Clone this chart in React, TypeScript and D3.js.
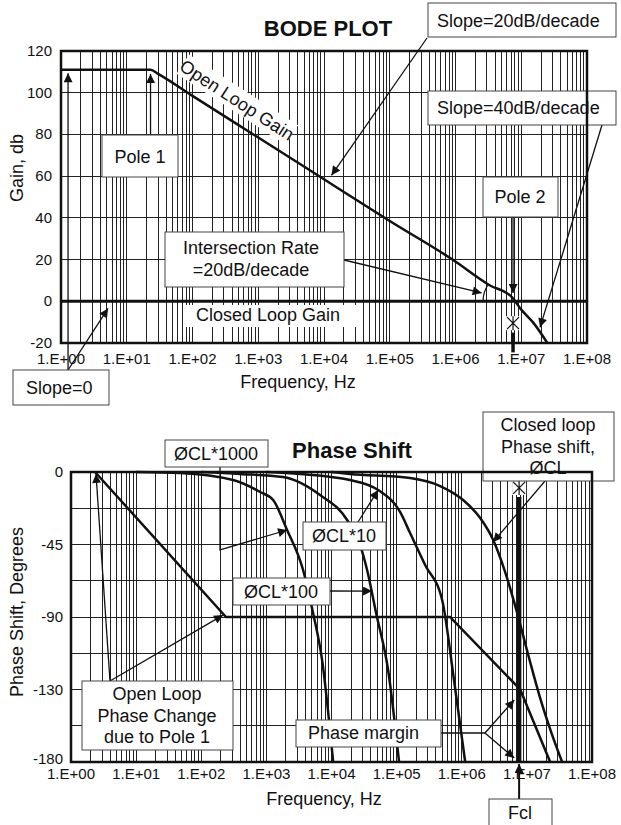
import React, { useEffect, useRef } from 'react';
import * as d3 from 'd3';

const W = 621;
const H = 825;
const FONT = '"Liberation Sans", Arial, Helvetica, sans-serif';

// ---- shared frequency axis ----
const freqTicks = [1, 1e1, 1e2, 1e3, 1e4, 1e5, 1e6, 1e7, 1e8];
const freqLabels = ['1.E+00', '1.E+01', '1.E+02', '1.E+03', '1.E+04', '1.E+05', '1.E+06', '1.E+07', '1.E+08'];

// ---- gain plot (Hz, dB) ----
const gainTicks = [-20, 0, 20, 40, 60, 80, 100, 120];
const openLoopGain: [number, number][] = [
  [1, 111], [23, 111], [30, 109], [100, 98.5], [1e3, 78.5], [1e4, 58.5], [1e5, 38.5],
  [9e5, 20], [3.3e6, 7.7], [7.2e6, 2], [1e7, -4], [1.5e7, -10], [2.5e7, -20],
];
const closedLoopGain: [number, number][] = [[1, 0], [1e8, 0]];
const pole1 = 23;
const pole2 = 7.5e6;

// ---- phase plot (Hz, degrees) ----
const phaseTicks = [0, -45, -90, -135, -180];
const phaseLabels = ['0', '-45', '-90', '-130', '-180'];
const phaseGrid = [0, -22.5, -45, -67.5, -90, -112.5, -135, -157.5, -180];
const openLoopPhase: [number, number][] = [[2.34, 0], [240, -90], [6.6e5, -90], [7.9e6, -135], [2.28e7, -180]];
const phaseCL1000: [number, number][] = [
  [10, 0], [47, -0.6], [308, -5], [800, -12.4], [1270, -17.4], [2080, -36], [3660, -60.8],
  [5210, -87.5], [7170, -116.7], [10600, -180],
];
const phaseCL100: [number, number][] = [
  [100, 0], [394, -1.2], [1806, -3.1], [6680, -14.3], [17370, -29.8], [27500, -45.4],
  [35200, -60.8], [48400, -87.5], [74000, -122.9], [109000, -180],
];
const phaseCL10: [number, number][] = [
  [1000, 0], [3300, -1.2], [19300, -5], [52000, -11.2], [113000, -24.8], [161000, -37.9],
  [274000, -57.7], [500000, -79.4], [764000, -129.7], [1130000, -180],
];
const phaseCL: [number, number][] = [
  [1e4, 0], [19300, -1.2], [161000, -3.7], [466000, -8.7], [1.05e6, -17.4], [1.92e6, -28.6],
  [3.04e6, -42.2], [4.64e6, -62.1], [7.1e6, -87.5], [1.05e7, -113.6], [1.6e7, -140.3],
  [2.36e7, -161.4], [3.48e7, -180],
];
const fcl = 7.6e6;

const gridFreqs: number[] = [];
for (let e = 0; e < 8; e++) for (let k = 1; k <= 9; k++) gridFreqs.push(k * Math.pow(10, e));
gridFreqs.push(1e8);

const App = () => {
  const svgRef = useRef<SVGSVGElement>(null);

  useEffect(() => {
    const svg = d3.select(svgRef.current);
    svg.selectAll('*').remove();
    svg.style('font-family', FONT);

    const defs = svg.append('defs');
    defs.append('marker')
      .attr('id', 'ah')
      .attr('viewBox', '0 0 10 10')
      .attr('refX', 10).attr('refY', 5)
      .attr('markerWidth', 13).attr('markerHeight', 9)
      .attr('markerUnits', 'userSpaceOnUse')
      .attr('orient', 'auto')
      .append('path').attr('d', 'M0,0 L10,5 L0,10 z').attr('fill', '#111');

    const box = (g: any, x: number, y: number, w: number, h: number, lines: string[], tx: number, ty: number[], anchor = 'middle', border = true) => {
      g.append('rect').attr('x', x).attr('y', y).attr('width', w).attr('height', h)
        .attr('fill', '#fff').attr('stroke', border ? '#444' : 'none').attr('stroke-width', 1);
      lines.forEach((t, i) => {
        g.append('text').attr('x', tx).attr('y', ty[i]).attr('text-anchor', anchor)
          .attr('font-size', 18).attr('fill', '#111').text(t);
      });
    };
    const arrow = (g: any, pts: [number, number][], head = true, sw = 1.3) => {
      g.append('path').attr('d', d3.line()(pts)).attr('fill', 'none')
        .attr('stroke', '#111').attr('stroke-width', sw)
        .attr('marker-end', head ? 'url(#ah)' : null);
    };
    const marker = (g: any, x: number, y: number) => {
      g.append('rect').attr('x', x - 7).attr('y', y - 7).attr('width', 14).attr('height', 14).attr('fill', '#fff');
      const s = 6;
      g.append('path')
        .attr('d', `M${x - s},${y - s}L${x + s},${y + s}M${x + s},${y - s}L${x - s},${y + s}M${x},${y - s - 1}L${x},${y + s + 1}`)
        .attr('stroke', '#111').attr('stroke-width', 1.2);
    };

    // ================= GAIN PLOT =================
    const xT = d3.scaleLog().domain([1, 1e8]).range([61, 587]);
    const yT = d3.scaleLinear().domain([-20, 120]).range([343, 51]);
    const gT = svg.append('g');

    gT.append('g').attr('shape-rendering', 'crispEdges').selectAll('line').data(gridFreqs).join('line')
      .attr('x1', d => xT(d)).attr('x2', d => xT(d)).attr('y1', yT(120)).attr('y2', yT(-20))
      .attr('stroke', '#222').attr('stroke-width', 1);
    gT.append('g').attr('shape-rendering', 'crispEdges').selectAll('line').data(gainTicks).join('line')
      .attr('x1', xT(1)).attr('x2', xT(1e8)).attr('y1', d => yT(d)).attr('y2', d => yT(d))
      .attr('stroke', '#222').attr('stroke-width', 1);

    const lineT = d3.line<[number, number]>().x(d => xT(d[0])).y(d => yT(d[1]));
    gT.append('path').attr('d', lineT(closedLoopGain)).attr('fill', 'none')
      .attr('stroke', '#111').attr('stroke-width', 3);
    gT.append('path').attr('d', lineT.curve(d3.curveMonotoneX)(openLoopGain)).attr('fill', 'none')
      .attr('stroke', '#111').attr('stroke-width', 2.5);

    // angle arc at the intersection
    const cx = xT(pole2), cy = yT(0), r = 30, ang = Math.atan(41.7 / 65.75);
    gT.append('path')
      .attr('d', `M${cx - r},${cy} A${r},${r} 0 0 1 ${cx - r * Math.cos(ang)},${cy - r * Math.sin(ang)}`)
      .attr('fill', 'none').attr('stroke', '#111').attr('stroke-width', 1.2);

    // rotated curve label
    const olg = gT.append('g').attr('transform', 'translate(237,100) rotate(33)');
    olg.append('rect').attr('x', -65).attr('y', -12).attr('width', 130).attr('height', 23).attr('fill', '#fff');
    olg.append('text').attr('text-anchor', 'middle').attr('dy', '0.35em').attr('font-size', 18)
      .attr('fill', '#111').text('Open Loop Gain');

    // closed loop label
    gT.append('rect').attr('x', 183).attr('y', 305).attr('width', 176).attr('height', 22).attr('fill', '#fff');
    gT.append('text').attr('x', 268).attr('y', 321).attr('text-anchor', 'middle').attr('font-size', 18)
      .attr('fill', '#111').text('Closed Loop Gain');

    // annotations
    arrow(gT, [[427, 38], [xT(1.3e4), yT(60.4)]]);
    arrow(gT, [[602, 125], [xT(1.93e7), yT(-12.5)]]);
    arrow(gT, [[xT(1.28), 370], [xT(1.28), yT(109.3)]]);
    arrow(gT, [[xT(1.28), 370], [xT(5.2), yT(-3.4)]]);
    arrow(gT, [[xT(pole1), 135], [xT(pole1), yT(109)]]);
    arrow(gT, [[xT(pole2), 217], [xT(pole2), yT(4)]]);
    arrow(gT, [[344, 260], [xT(2.5e6), yT(4)]]);

    box(gT, 428, 3, 188, 34, ['Slope=20dB/decade'], 437, [27], 'start');
    box(gT, 428, 91, 188, 34, ['Slope=40dB/decade'], 437, [114], 'start');
    box(gT, 102, 135, 76, 42, ['Pole 1'], 140, [163]);
    box(gT, 483, 177, 75, 40, ['Pole 2'], 520, [203]);
    box(gT, 165, 232, 179, 55, ['Intersection Rate', '=20dB/decade'], 251, [254, 276]);
    box(gT, 13, 370, 96, 35, ['Slope=0'], 26, [394], 'start');

    marker(gT, xT(pole2), yT(-10.5));
    gT.append('line').attr('x1', xT(pole2)).attr('x2', xT(pole2)).attr('y1', yT(-15)).attr('y2', yT(-24.5))
      .attr('stroke', '#111').attr('stroke-width', 3.5);

    gT.append('rect').attr('x', xT(1)).attr('y', yT(120)).attr('width', xT(1e8) - xT(1))
      .attr('height', yT(-20) - yT(120)).attr('fill', 'none').attr('stroke', '#111').attr('stroke-width', 2.5);

    gT.append('g').selectAll('text').data(gainTicks).join('text')
      .attr('x', 52).attr('y', d => yT(d) + 5).attr('text-anchor', 'end').attr('font-size', 15)
      .attr('fill', '#111').text(d => String(d));
    gT.append('g').selectAll('text').data(freqTicks).join('text')
      .attr('x', d => xT(d)).attr('y', 364).attr('text-anchor', 'middle').attr('font-size', 15)
      .attr('fill', '#111').text((d, i) => freqLabels[i]);
    gT.append('text').attr('x', 298).attr('y', 388).attr('text-anchor', 'middle').attr('font-size', 18)
      .attr('fill', '#111').text('Frequency, Hz');
    gT.append('text').attr('transform', 'translate(23,168) rotate(-90)').attr('text-anchor', 'middle')
      .attr('font-size', 18).attr('fill', '#111').text('Gain, db');
    gT.append('text').attr('x', 328).attr('y', 36).attr('text-anchor', 'middle').attr('font-size', 22)
      .attr('font-weight', 'bold').attr('fill', '#111').text('BODE PLOT');

    // ================= PHASE PLOT =================
    const xB = d3.scaleLog().domain([1, 1e8]).range([71, 592]);
    const yB = d3.scaleLinear().domain([-180, 0]).range([762, 472]);
    const gB = svg.append('g');

    gB.append('g').attr('shape-rendering', 'crispEdges').selectAll('line').data(gridFreqs).join('line')
      .attr('x1', d => xB(d)).attr('x2', d => xB(d)).attr('y1', yB(0)).attr('y2', yB(-180))
      .attr('stroke', '#222').attr('stroke-width', 1);
    gB.append('g').attr('shape-rendering', 'crispEdges').selectAll('line').data(phaseGrid).join('line')
      .attr('x1', xB(1)).attr('x2', xB(1e8)).attr('y1', d => yB(d)).attr('y2', d => yB(d))
      .attr('stroke', '#222').attr('stroke-width', 1);

    const lineB = d3.line<[number, number]>().x(d => xB(d[0])).y(d => yB(d[1]));
    const smoothB = d3.line<[number, number]>().x(d => xB(d[0])).y(d => yB(d[1])).curve(d3.curveMonotoneX);
    gB.append('path').attr('d', lineB(openLoopPhase)).attr('fill', 'none').attr('stroke', '#111').attr('stroke-width', 2.5);
    [phaseCL1000, phaseCL100, phaseCL10, phaseCL].forEach(s => {
      gB.append('path').attr('d', smoothB(s)).attr('fill', 'none').attr('stroke', '#111').attr('stroke-width', 2.5);
    });

    // Fcl line
    gB.append('line').attr('x1', xB(fcl)).attr('x2', xB(fcl)).attr('y1', yB(-15.5)).attr('y2', yB(-180))
      .attr('stroke', '#111').attr('stroke-width', 4.5);
    marker(gB, xB(fcl), yB(-9.9));

    // annotations
    arrow(gB, [[220, 467], [220, yB(-48.4)], [xB(2080), yB(-36)]]);
    arrow(gB, [[358, 522], [xB(5.2e4), yB(-11.2)]]);
    arrow(gB, [[330, 591], [xB(4.2e4), yB(-73.9)]]);
    arrow(gB, [[545, 481], [xB(3.04e6), yB(-43.4)]]);
    arrow(gB, [[110, 681], [xB(216), yB(-88.8)]]);
    arrow(gB, [[110, 681], [xB(2.42), yB(-1.2)]]);
    arrow(gB, [[441, 733], [485, 733], [xB(6.4e6), yB(-141.5)]]);
    arrow(gB, [[485, 733], [xB(6.4e6), yB(-177.5)]]);
    arrow(gB, [[xB(fcl), 799], [xB(fcl), 764]], true, 2);

    box(gB, 165, 440, 103, 27, ['ØCL*1000'], 216, [460]);
    box(gB, 303, 522, 83, 28, ['ØCL*10'], 344, [542]);
    box(gB, 233, 578, 97, 27, ['ØCL*100'], 281, [598]);
    box(gB, 483, 412, 131, 69, ['Closed loop', 'Phase shift,', 'ØCL'], 548, [431, 453, 474]);
    box(gB, 82, 681, 151, 69, ['Open Loop', 'Phase Change', 'due to Pole 1'], 157, [700, 722, 743]);
    box(gB, 296, 720, 145, 27, ['Phase margin'], 308, [739], 'start');
    box(gB, 489, 799, 63, 40, ['Fcl'], 520, [819]);

    gB.append('rect').attr('x', xB(1)).attr('y', yB(0)).attr('width', xB(1e8) - xB(1))
      .attr('height', yB(-180) - yB(0)).attr('fill', 'none').attr('stroke', '#111').attr('stroke-width', 2.5);

    gB.append('g').selectAll('text').data(phaseTicks).join('text')
      .attr('x', 63).attr('y', d => yB(d) + (d === -180 ? 2 : 5)).attr('text-anchor', 'end').attr('font-size', 15)
      .attr('fill', '#111').text((d, i) => phaseLabels[i]);
    gB.append('g').selectAll('text').data(freqTicks).join('text')
      .attr('x', d => xB(d)).attr('y', 779).attr('text-anchor', 'middle').attr('font-size', 15)
      .attr('fill', '#111').text((d, i) => freqLabels[i]);
    gB.append('text').attr('x', 324).attr('y', 805).attr('text-anchor', 'middle').attr('font-size', 18)
      .attr('fill', '#111').text('Frequency, Hz');
    gB.append('text').attr('transform', 'translate(23,612) rotate(-90)').attr('text-anchor', 'middle')
      .attr('font-size', 18).attr('fill', '#111').text('Phase Shift, Degrees');
    gB.append('text').attr('x', 352).attr('y', 458).attr('text-anchor', 'middle').attr('font-size', 22)
      .attr('font-weight', 'bold').attr('fill', '#111').text('Phase Shift');
  }, []);

  return (
    <div style={{ position: 'absolute', left: 0, top: 0 }}>
      <svg ref={svgRef} width={W} height={H} style={{ display: 'block', background: '#fff' }}></svg>
    </div>
  );
};

export default App;
